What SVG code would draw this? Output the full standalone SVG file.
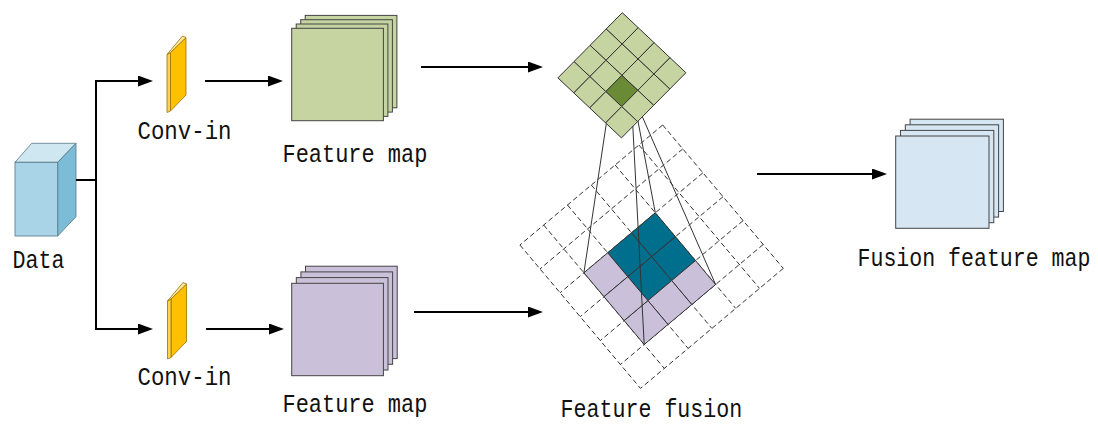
<svg xmlns="http://www.w3.org/2000/svg" width="1098" height="424" viewBox="0 0 1098 424">
<style>
.lbl{font-family:"Liberation Mono","DejaVu Sans Mono",monospace;font-size:26px;fill:#111;}
.conn{fill:none;stroke:#000;stroke-width:2;}
.fm{stroke:#444;stroke-width:1;}
.green{fill:#c5d4a0;}
.purple{fill:#cac0da;}
.blue{fill:#d6e7f3;}
.cell{stroke:#333;stroke-width:1;vector-effect:non-scaling-stroke;}
.dash{fill:none;stroke:#333;stroke-width:1;stroke-dasharray:5 3;}
.ray{fill:none;stroke:#333;stroke-width:1;}
.slab{stroke:#9a7400;stroke-width:0.8;}
</style>
<defs>
<marker id="arr" viewBox="0 0 15 11" refX="11" refY="5.5" markerWidth="15" markerHeight="11" markerUnits="userSpaceOnUse" orient="auto">
<path d="M0,0 L15,5.5 L0,11 z" fill="#000"/>
</marker>
<g id="slabShape">
<polygon class="slab" points="170.5,52.5 186,37.5 186,95 170.5,111" fill="#ffc000"/>
<polygon class="slab" points="167,54.5 170.5,52.5 170.5,111 167,112.5" fill="#ffd34f"/>
<polygon class="slab" points="167,54.5 182.5,36 186,37.5 170.5,52.5" fill="#ffe699"/>
</g>
</defs>
<rect width="1098" height="424" fill="#fff"/>

<!-- Data cube -->
<g id="data">
<polygon points="15,162.3 57.7,162.3 76,143.3 31.7,143.3" fill="#cfe7f1" stroke="#557788" stroke-width="0.8"/>
<polygon points="57.7,162.3 76,143.3 76,216.7 57.7,236" fill="#7dbcd7" stroke="#557788" stroke-width="0.8"/>
<rect x="15" y="162.3" width="42.7" height="73.7" fill="#a9d4e7" stroke="#557788" stroke-width="0.8"/>
<text class="lbl" transform="translate(12.5,268.3) scale(0.833,1)">Data</text>
</g>

<!-- Conv-in top -->
<g id="conv-in-top">
<use href="#slabShape"/>
<text class="lbl" transform="translate(137.5,139) scale(0.861,1)">Conv-in</text>
</g>

<!-- Conv-in bottom -->
<g id="conv-in-bottom">
<use href="#slabShape" transform="translate(0.5,246.5)"/>
<text class="lbl" transform="translate(137.5,385) scale(0.861,1)">Conv-in</text>
</g>

<!-- Feature map top -->
<g id="feature-map-top">
<rect class="fm green" x="305.2" y="15.4" width="91.7" height="92.4"/>
<rect class="fm green" x="300.7" y="19.7" width="91.7" height="92.4"/>
<rect class="fm green" x="296.2" y="24" width="91.7" height="92.4"/>
<rect class="fm green" x="291.7" y="28.3" width="91.7" height="92.4"/>
<text class="lbl" transform="translate(282.5,161.7) scale(0.845,1)">Feature map</text>
</g>

<!-- Feature map bottom -->
<g id="feature-map-bottom">
<rect class="fm purple" x="305.5" y="266.2" width="91.7" height="92.4"/>
<rect class="fm purple" x="300.9" y="271.9" width="91.7" height="92.4"/>
<rect class="fm purple" x="296.3" y="277.6" width="91.7" height="92.4"/>
<rect class="fm purple" x="291.7" y="283.3" width="91.7" height="92.4"/>
<text class="lbl" transform="translate(282.5,411.7) scale(0.845,1)">Feature map</text>
</g>

<!-- Feature fusion -->
<g id="feature-fusion">
<path class="dash" d="M662.7,125 L519.9,245 M682.8,148.9 L540,268.9 M702.9,172.8 L560.1,292.8 M723,196.7 L580.2,316.7 M743.1,220.6 L600.3,340.6 M763.2,244.5 L620.4,364.5 M783.3,268.4 L640.5,388.4 M662.7,125 L783.3,268.4 M638.9,145 L759.5,288.4 M615.1,165 L735.7,308.4 M591.3,185 L711.9,328.4 M567.5,205 L688.1,348.4 M543.7,225 L664.3,368.4 M519.9,245 L640.5,388.4"/>
<g transform="matrix(20.1,23.9,-23.8,20,662.7,125)">
<rect class="cell" x="2" y="2" width="1" height="1" fill="#006f8e"/>
<rect class="cell" x="3" y="2" width="1" height="1" fill="#006f8e"/>
<rect class="cell" x="2" y="3" width="1" height="1" fill="#006f8e"/>
<rect class="cell" x="3" y="3" width="1" height="1" fill="#006f8e"/>
<rect class="cell" x="4" y="2" width="1" height="1" fill="#cac0da"/>
<rect class="cell" x="4" y="3" width="1" height="1" fill="#cac0da"/>
<rect class="cell" x="4" y="4" width="1" height="1" fill="#cac0da"/>
<rect class="cell" x="2" y="4" width="1" height="1" fill="#cac0da"/>
<rect class="cell" x="3" y="4" width="1" height="1" fill="#cac0da"/>
</g>
<path class="ray" d="M607.6,115 L583.9,272.8 M632.4,118 L644.2,344.5 M637.4,118 L655.3,212.8 M641.6,115 L715.6,284.5"/>
<g transform="matrix(15.9,15,-16.1,16.3,622.3,12.7)">
<rect class="cell" x="0" y="0" width="1" height="1" fill="#c5d4a0"/>
<rect class="cell" x="1" y="0" width="1" height="1" fill="#c5d4a0"/>
<rect class="cell" x="2" y="0" width="1" height="1" fill="#c5d4a0"/>
<rect class="cell" x="3" y="0" width="1" height="1" fill="#c5d4a0"/>
<rect class="cell" x="0" y="1" width="1" height="1" fill="#c5d4a0"/>
<rect class="cell" x="1" y="1" width="1" height="1" fill="#c5d4a0"/>
<rect class="cell" x="2" y="1" width="1" height="1" fill="#c5d4a0"/>
<rect class="cell" x="3" y="1" width="1" height="1" fill="#c5d4a0"/>
<rect class="cell" x="0" y="2" width="1" height="1" fill="#c5d4a0"/>
<rect class="cell" x="1" y="2" width="1" height="1" fill="#c5d4a0"/>
<rect class="cell" x="2" y="2" width="1" height="1" fill="#6b8a36"/>
<rect class="cell" x="3" y="2" width="1" height="1" fill="#c5d4a0"/>
<rect class="cell" x="0" y="3" width="1" height="1" fill="#c5d4a0"/>
<rect class="cell" x="1" y="3" width="1" height="1" fill="#c5d4a0"/>
<rect class="cell" x="2" y="3" width="1" height="1" fill="#c5d4a0"/>
<rect class="cell" x="3" y="3" width="1" height="1" fill="#c5d4a0"/>
</g>
<text class="lbl" transform="translate(560.5,417) scale(0.833,1)">Feature fusion</text>
</g>

<!-- Fusion feature map -->
<g id="fusion-feature-map">
<rect class="fm blue" x="910.1" y="119.2" width="93.3" height="92.3" stroke="#666"/>
<rect class="fm blue" x="905.3" y="124.8" width="93.3" height="92.3" stroke="#666"/>
<rect class="fm blue" x="900.5" y="130.4" width="93.3" height="92.3" stroke="#666"/>
<rect class="fm blue" x="895.7" y="136" width="93.3" height="92.3" stroke="#666"/>
<text class="lbl" transform="translate(857.5,266) scale(0.83,1)">Fusion feature map</text>
</g>

<!-- Connectors -->
<g id="connectors">
<path class="conn" d="M76,180 H96"/>
<path class="conn" d="M96,181 V81 H149" marker-end="url(#arr)"/>
<path class="conn" d="M96,179 V329 H149" marker-end="url(#arr)"/>
<path class="conn" d="M205,81 H279" marker-end="url(#arr)"/>
<path class="conn" d="M206,329 H280" marker-end="url(#arr)"/>
<path class="conn" d="M421,67 H539" marker-end="url(#arr)"/>
<path class="conn" d="M414,312 H539" marker-end="url(#arr)"/>
<path class="conn" d="M757,174 H883" marker-end="url(#arr)"/>
</g>
</svg>
